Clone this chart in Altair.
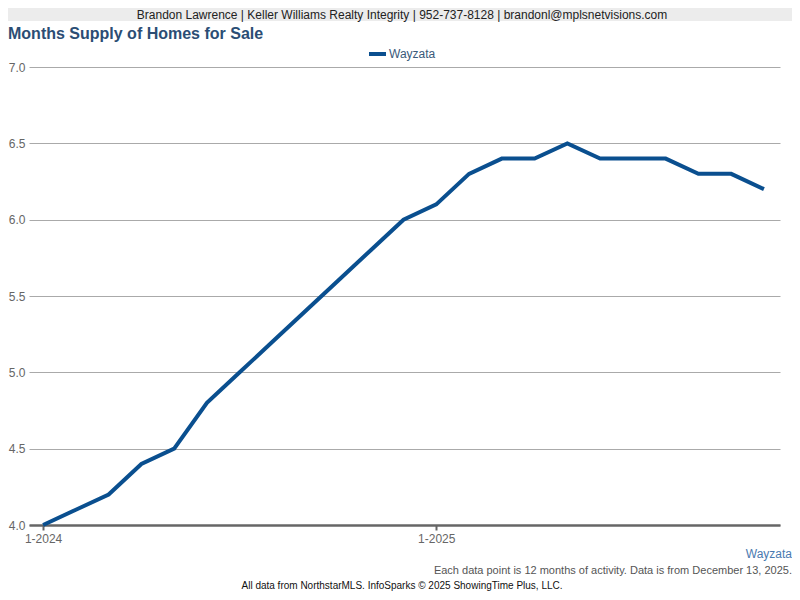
import altair as alt
import pandas as pd

months = ["1-2024","2-2024","3-2024","4-2024","5-2024","6-2024","7-2024","8-2024","9-2024","10-2024","11-2024","12-2024",
          "1-2025","2-2025","3-2025","4-2025","5-2025","6-2025","7-2025","8-2025","9-2025","10-2025","11-2025"]
values = [4.0,4.1,4.2,4.4,4.5,4.8,5.0,5.2,5.4,5.6,5.8,6.0,
          6.1,6.3,6.4,6.4,6.5,6.4,6.4,6.4,6.3,6.3,6.2]
y_ticks = [4.0,4.5,5.0,5.5,6.0,6.5,7.0]
x_tick_idx = [0,12]

df = pd.DataFrame({"idx": list(range(len(months))), "month": months, "value": values})

W, H = 751, 458
PL, PT = 21, 59
PR = 784 - PL - W
PB = 584 - PT - H
FONT = "Liberation Sans"
LINE = "#0a4f8f"

xs = alt.Scale(domain=[-0.43, 22.49], nice=False, zero=False)
ys = alt.Scale(domain=[4.0, 7.0], nice=False, zero=False)

base = alt.Chart(df)

line = base.mark_line(color=LINE, strokeWidth=4, strokeJoin="miter").encode(
    x=alt.X("idx:Q", scale=xs, axis=alt.Axis(
        values=x_tick_idx, title=None, grid=False,
        labelExpr="datum.value == 0 ? '1-2024' : '1-2025'",
        domain=True, domainColor="#666666", domainWidth=2.5,
        tickColor="#666666", tickSize=5, tickWidth=2,
        labelFont=FONT, labelFontSize=12, labelColor="#666666", labelPadding=3)),
    y=alt.Y("value:Q", scale=ys, axis=alt.Axis(
        values=y_ticks, format=".1f", title=None, grid=True, gridColor="#aaaaaa",
        gridWidth=1, domain=False, ticks=False,
        labelFont=FONT, labelFontSize=12, labelColor="#666666", labelPadding=4)),
)

one = pd.DataFrame({"a": [0]})
oc = alt.Chart(one)

header = oc.mark_rect(color="#ececec").encode(
    x=alt.value(-PL), x2=alt.value(W + PR), y=alt.value(-PT), y2=alt.value(-46))
header_text = oc.mark_text(text="Brandon Lawrence | Keller Williams Realty Integrity | 952-737-8128 | brandonl@mplsnetvisions.com",
    font=FONT, fontSize=12, color="#222222", align="center", baseline="middle").encode(
    x=alt.value(373), y=alt.value(-52))
title = oc.mark_text(text="Months Supply of Homes for Sale", font=FONT, fontSize=16, fontWeight="bold",
    color="#2b4d74", align="left", baseline="middle").encode(x=alt.value(-PL), y=alt.value(-33))
leg_sw = oc.mark_rule(color=LINE, strokeWidth=4).encode(
    x=alt.value(340), x2=alt.value(357), y=alt.value(-13))
leg_txt = oc.mark_text(text="Wayzata", font=FONT, fontSize=12, color="#3a5a7a",
    align="left", baseline="middle").encode(x=alt.value(360), y=alt.value(-13))
wz = oc.mark_text(text="Wayzata", font=FONT, fontSize=12, color="#4a7ab0",
    align="right", baseline="middle").encode(x=alt.value(W + PR), y=alt.value(H + 29))
note = oc.mark_text(text="Each data point is 12 months of activity. Data is from December 13, 2025.",
    font=FONT, fontSize=11, color="#555555", align="right", baseline="middle").encode(
    x=alt.value(W + PR), y=alt.value(H + 46))
foot = oc.mark_text(text="All data from NorthstarMLS. InfoSparks \u00a9 2025 ShowingTime Plus, LLC.",
    font=FONT, fontSize=10, color="#111111", align="center", baseline="middle").encode(
    x=alt.value(373), y=alt.value(H + 61))

chart = alt.layer(line, header, header_text, title, leg_sw, leg_txt, wz, note, foot).properties(
    width=W, height=H,
    padding={"left": PL, "top": PT, "right": PR, "bottom": PB},
    autosize=alt.AutoSizeParams(type="none"),
    background="white",
).configure_view(stroke=None)

chart.save("out.html", embed_options={"renderer": "svg", "actions": False})
